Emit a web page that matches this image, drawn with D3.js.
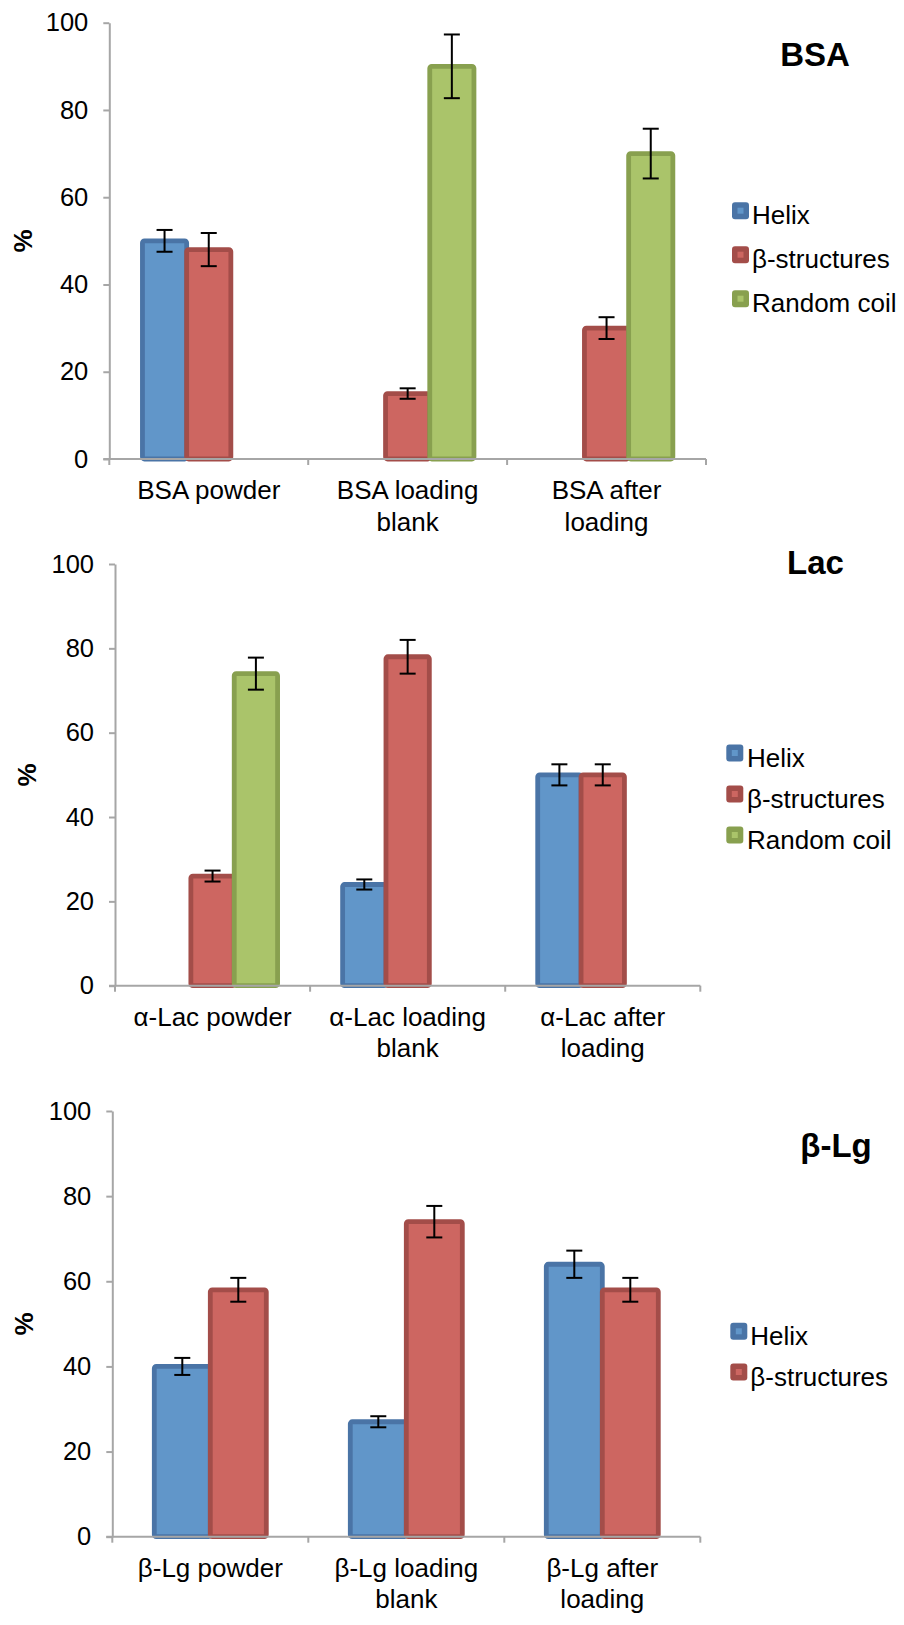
<!DOCTYPE html>
<html>
<head>
<meta charset="utf-8">
<script src="https://cdn.jsdelivr.net/npm/d3@7"></script>
<style>
  html, body { margin: 0; padding: 0; background: #fff; }
  svg { display: block; font-family: "Liberation Sans", Arial, Helvetica, sans-serif; }
</style>
</head>
<body>
<svg id="chart" width="904" height="1625"></svg>
<script>
// ---------- data ----------
const seriesNames3 = ["Helix", "β-structures", "Random coil"];
const seriesNames2 = ["Helix", "β-structures"];
const yTicks = [0, 20, 40, 60, 80, 100];

const bsaCategories = ["BSA powder", "BSA loading\nblank", "BSA after\nloading"];
const bsaHelix = [50, null, null];
const bsaBeta = [48, 15, 30];
const bsaRandom = [null, 90, 70];
const bsaHelixErr = [2.5, null, null];
const bsaBetaErr = [3.8, 1.2, 2.5];
const bsaRandomErr = [null, 7.3, 5.7];

const lacCategories = ["α-Lac powder", "α-Lac loading\nblank", "α-Lac after\nloading"];
const lacHelix = [null, 24, 50];
const lacBeta = [26, 78, 50];
const lacRandom = [74, null, null];
const lacHelixErr = [null, 1.2, 2.5];
const lacBetaErr = [1.3, 4.0, 2.5];
const lacRandomErr = [3.8, null, null];

const lgCategories = ["β-Lg powder", "β-Lg loading\nblank", "β-Lg after\nloading"];
const lgHelix = [40, 27, 64];
const lgBeta = [58, 74, 58];
const lgHelixErr = [2.0, 1.3, 3.2];
const lgBetaErr = [2.8, 3.7, 2.8];

// ---------- styles ----------
const fills = { "Helix": "#6196c9", "β-structures": "#cd6661", "Random coil": "#aac46a" };
const borders = { "Helix": "#4a74a6", "β-structures": "#a34d49", "Random coil": "#88a04f" };
const axisColor = "#a6a6a6";

const svg = d3.select("#chart");

const panels = [
  { title: "BSA", titleX: 815, titleY: 66, axisX: 109.3, axisEnd: 706, y0: 459, y100: 22.7,
    pctX: 32, categories: bsaCategories, series: seriesNames3,
    values: [bsaHelix, bsaBeta, bsaRandom], errors: [bsaHelixErr, bsaBetaErr, bsaRandomErr],
    legend: { sqX: 732, y0: 210.7, dy: 44, textX: 752 } },
  { title: "Lac", titleX: 815.5, titleY: 574, axisX: 115, axisEnd: 700.3, y0: 985.7, y100: 564,
    pctX: 36, categories: lacCategories, series: seriesNames3,
    values: [lacHelix, lacBeta, lacRandom], errors: [lacHelixErr, lacBetaErr, lacRandomErr],
    legend: { sqX: 726.3, y0: 753, dy: 41, textX: 747 } },
  { title: "β-Lg", titleX: 836, titleY: 1157, axisX: 112.3, axisEnd: 700.3, y0: 1536.7, y100: 1111,
    pctX: 33, categories: lgCategories, series: seriesNames2,
    values: [lgHelix, lgBeta], errors: [lgHelixErr, lgBetaErr],
    legend: { sqX: 730.3, y0: 1331.3, dy: 40.7, textX: 750.3 } }
];

panels.forEach(p => {
  const g = svg.append("g");
  const y = d3.scaleLinear().domain([0, 100]).range([p.y0, p.y100]);
  const x0 = d3.scaleBand().domain(p.categories).range([p.axisX, p.axisEnd]).padding(0);
  const gap = 1.5;
  const x1 = d3.scaleBand().domain(p.series).range([0, x0.bandwidth()])
    .paddingInner(0).paddingOuter(gap / 2);

  // y axis
  const ya = g.append("g").attr("transform", `translate(${p.axisX},0)`)
    .call(d3.axisLeft(y).tickValues(yTicks).tickSize(6).tickSizeOuter(0).tickPadding(15));
  ya.select(".domain").attr("stroke", axisColor).attr("stroke-width", 2);
  ya.selectAll(".tick line").attr("stroke", axisColor).attr("stroke-width", 2);
  ya.selectAll(".tick text").attr("fill", "#000").style("font-size", "25.5px")
    .style("font-family", '"Liberation Sans", Arial, sans-serif');

  // bars
  p.series.forEach((s, si) => {
    p.categories.forEach((c, ci) => {
      const v = p.values[si][ci];
      if (v == null) return;
      const bx = x0(c) + x1(s);
      g.append("rect")
        .attr("x", bx).attr("y", y(v))
        .attr("width", x1.bandwidth()).attr("height", y(0) - y(v))
        .attr("rx", 2)
        .attr("fill", fills[s]).attr("stroke", borders[s]).attr("stroke-width", 4.8);
    });
  });

  // x axis (drawn over bar bottoms)
  g.append("line").attr("x1", p.axisX - 6).attr("x2", p.axisEnd)
    .attr("y1", y(0)).attr("y2", y(0)).attr("stroke", axisColor).attr("stroke-width", 2);
  const bounds = p.categories.map(c => x0(c)).concat([p.axisEnd]);
  g.selectAll(null).data(bounds).enter().append("line")
    .attr("x1", d => d).attr("x2", d => d)
    .attr("y1", y(0)).attr("y2", y(0) + 6)
    .attr("stroke", axisColor).attr("stroke-width", 2);

  // error bars
  p.series.forEach((s, si) => {
    p.categories.forEach((c, ci) => {
      const v = p.values[si][ci];
      const e = p.errors[si][ci];
      if (v == null || e == null) return;
      const cx = x0(c) + x1(s) + x1.bandwidth() / 2;
      const eb = g.append("g").attr("stroke", "#000").attr("stroke-width", 2);
      eb.append("line").attr("x1", cx).attr("x2", cx).attr("y1", y(v + e)).attr("y2", y(v - e));
      eb.append("line").attr("x1", cx - 8).attr("x2", cx + 8).attr("y1", y(v + e)).attr("y2", y(v + e));
      eb.append("line").attr("x1", cx - 8).attr("x2", cx + 8).attr("y1", y(v - e)).attr("y2", y(v - e));
    });
  });

  // category labels
  p.categories.forEach(c => {
    const cx = x0(c) + x0.bandwidth() / 2;
    const t = g.append("text").attr("text-anchor", "middle")
      .attr("x", cx).attr("y", y(0) + 40)
      .style("font-size", "26px").attr("fill", "#000");
    c.split("\n").forEach((line, li) => {
      t.append("tspan").attr("x", cx).attr("dy", li === 0 ? 0 : 31.5).text(line);
    });
  });

  // y axis title
  g.append("text")
    .attr("transform", `translate(${p.pctX},${(p.y0 + p.y100) / 2}) rotate(-90)`)
    .attr("text-anchor", "middle").style("font-size", "26px").style("font-weight", "bold")
    .attr("fill", "#000").text("%");

  // chart title
  g.append("text").attr("x", p.titleX).attr("y", p.titleY).attr("text-anchor", "middle")
    .style("font-size", "33px").style("font-weight", "bold").attr("fill", "#000").text(p.title);

  // legend
  p.series.forEach((s, si) => {
    const cy = p.legend.y0 + si * p.legend.dy;
    g.append("rect").attr("x", p.legend.sqX).attr("y", cy - 8.5)
      .attr("width", 17).attr("height", 17).attr("rx", 3)
      .attr("fill", borders[s]);
    g.append("rect").attr("x", p.legend.sqX + 5.5).attr("y", cy - 3)
      .attr("width", 6).attr("height", 6)
      .attr("fill", fills[s]);
    g.append("text").attr("x", p.legend.textX).attr("y", cy + 13.5)
      .style("font-size", "26px").attr("fill", "#000").text(s);
  });
});
</script>
</body>
</html>
